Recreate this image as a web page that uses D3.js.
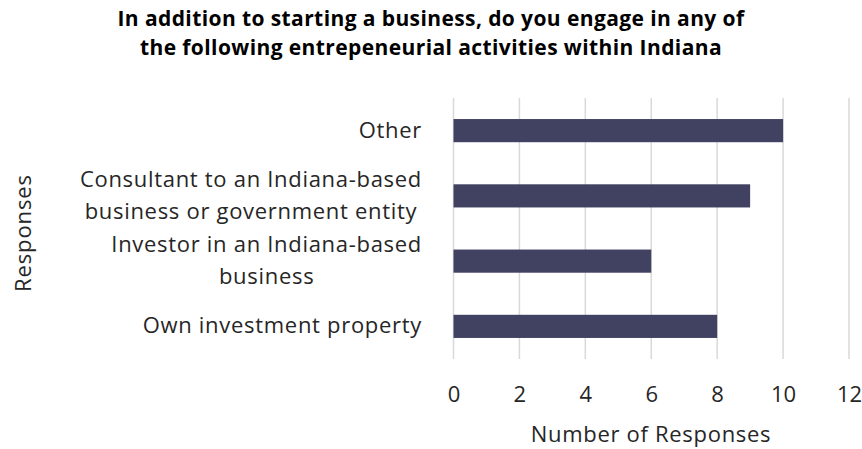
<!DOCTYPE html>
<html>
<head>
<meta charset="utf-8">
<script src="https://cdn.jsdelivr.net/npm/d3@7"></script>
<style>
  html, body { margin: 0; padding: 0; background: #fff; }
  svg { display: block; font-family: "Open Sans", sans-serif; }
</style>
</head>
<body>
<svg id="chart" width="862" height="449"></svg>
<script>
// Survey responses: entrepreneurial activities besides starting a business
const categories = [
  ["Other"],
  ["Consultant to an Indiana-based", "business or government entity"],
  ["Investor in an Indiana-based", "business"],
  ["Own investment property"]
];
const responses = [10, 9, 6, 8];
const xTicks = [0, 2, 4, 6, 8, 10, 12];
const titleLines = [
  "In addition to starting a business, do you engage in any of",
  "the following entrepeneurial activities within Indiana"
];
const xTitle = "Number of Responses";
const yTitle = "Responses";

const svg = d3.select("#chart");
const plot = { left: 453.5, right: 849, top: 98, bottom: 359 };
const textColor = "#262626";
const labelSize = "22px";
const labelSpacing = "0.7px";
const labelRight = 422;

const x = d3.scaleLinear().domain([0, 12]).range([plot.left, plot.right]);
const y = d3.scaleBand()
  .domain(categories.map((d, i) => i))
  .range([plot.top, plot.bottom])
  .paddingInner(0.645)
  .paddingOuter(0.3225);

// vertical gridlines
svg.append("g")
  .selectAll("line")
  .data(xTicks)
  .join("line")
  .attr("x1", d => x(d)).attr("x2", d => x(d))
  .attr("y1", plot.top).attr("y2", plot.bottom)
  .attr("stroke", "#d9d9d9")
  .attr("stroke-width", 1.5);

// bars
svg.append("g")
  .selectAll("rect")
  .data(responses)
  .join("rect")
  .attr("x", x(0))
  .attr("y", (d, i) => y(i))
  .attr("width", d => x(d) - x(0))
  .attr("height", y.bandwidth())
  .attr("fill", "#414162");

// x axis tick labels
const xAxis = d3.axisBottom(x).tickValues(xTicks).tickSize(0).tickPadding(0);
const gx = svg.append("g")
  .attr("transform", `translate(0, ${plot.bottom})`)
  .call(xAxis);
gx.select(".domain").remove();
gx.selectAll("text")
  .attr("dy", null)
  .attr("y", 43.3)
  .attr("fill", textColor)
  .style("font-size", labelSize)
  .style("font-family", "Open Sans");

// category labels: each block sits right against the plot, its lines centred
const gy = svg.append("g");
categories.forEach((lines, i) => {
  const cy = y(i) + y.bandwidth() / 2;
  const lh = 32;
  const t = gy.append("text")
    .attr("text-anchor", "middle")
    .attr("fill", textColor)
    .style("font-size", labelSize)
    .style("letter-spacing", labelSpacing);
  const spans = lines.map((ln, j) =>
    t.append("tspan")
      .attr("y", cy + (j - (lines.length - 1) / 2) * lh + 7)
      .text(ln));
  const maxW = d3.max(spans, s => s.node().getComputedTextLength());
  spans.forEach(s => s.attr("x", labelRight - maxW / 2));
});

// axis titles
svg.append("text")
  .attr("x", 651).attr("y", 442)
  .attr("text-anchor", "middle")
  .attr("fill", textColor)
  .style("font-size", labelSize)
  .style("letter-spacing", labelSpacing)
  .text(xTitle);

svg.append("text")
  .attr("transform", "translate(31, 233) rotate(-90)")
  .attr("text-anchor", "middle")
  .attr("fill", textColor)
  .style("font-size", labelSize)
  .style("letter-spacing", "0.9px")
  .text(yTitle);

// chart title
const title = svg.append("text")
  .attr("text-anchor", "middle")
  .attr("fill", "#000")
  .style("font-size", "21px")
  .style("font-weight", "bold")
  .style("letter-spacing", "0.4px");
titleLines.forEach((ln, j) => {
  title.append("tspan").attr("x", 431).attr("y", 26 + j * 29).text(ln);
});
</script>
</body>
</html>
